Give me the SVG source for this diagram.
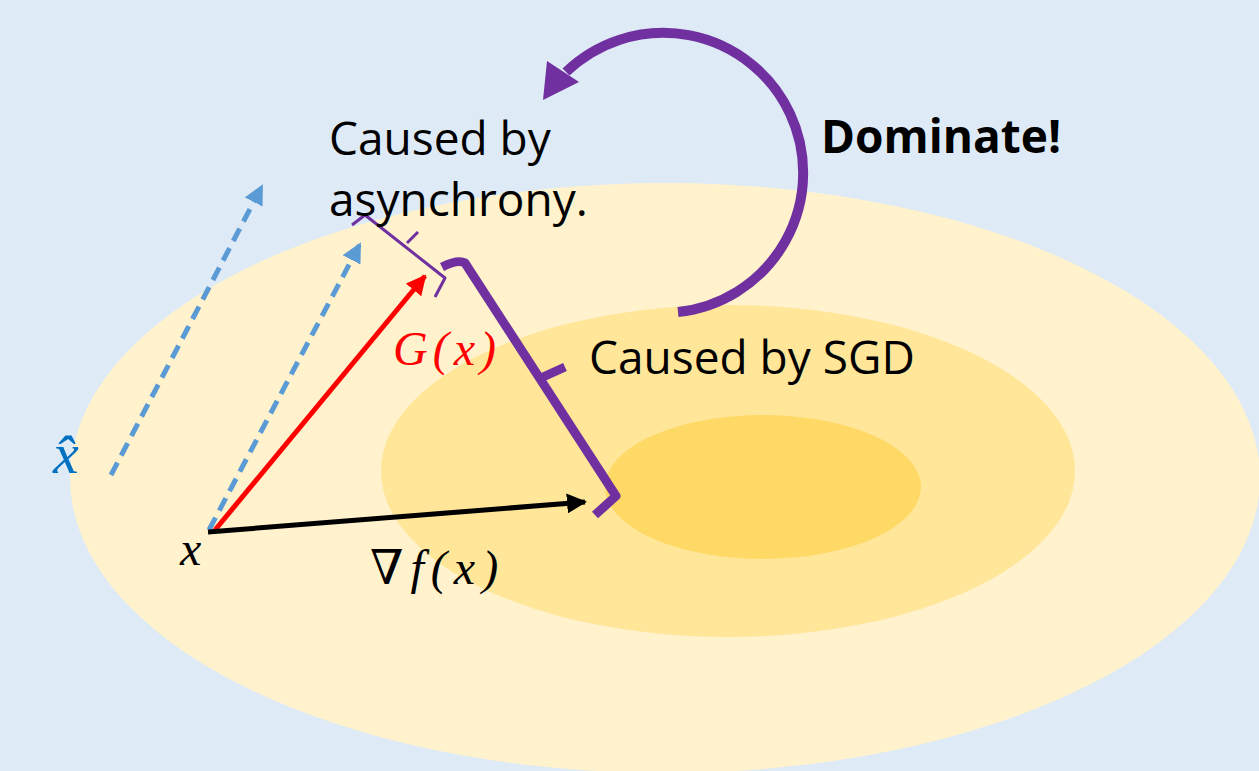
<svg xmlns="http://www.w3.org/2000/svg" width="1259" height="771" viewBox="0 0 1259 771">
<style>
.lbl{font-family:"Open Sans","Liberation Sans",sans-serif;font-size:46px;fill:#000}
.math{font-family:"Liberation Serif","DejaVu Serif",serif;font-style:italic;font-size:48px;letter-spacing:5px}
.dash{stroke:#5B9BD5;stroke-width:5;stroke-dasharray:14 8;fill:none}
.pur{stroke:#7030A0;fill:none;stroke-linejoin:round}
</style>
<defs>
<marker id="ab" viewBox="0 0 10 10" refX="9" refY="5" markerWidth="4" markerHeight="4" orient="auto" markerUnits="strokeWidth"><path d="M0,0 L10,5 L0,10 z" fill="#000"/></marker>
<marker id="ar" viewBox="0 0 10 10" refX="9" refY="5" markerWidth="4" markerHeight="4" orient="auto" markerUnits="strokeWidth"><path d="M0,0 L10,5 L0,10 z" fill="#FF0000"/></marker>
<marker id="abl" viewBox="0 0 10 10" refX="9" refY="5" markerWidth="4" markerHeight="4" orient="auto" markerUnits="strokeWidth"><path d="M0,0 L10,5 L0,10 z" fill="#5B9BD5"/></marker>
</defs>
<rect width="1259" height="771" fill="#DEEAF6"/>
<g id="contours">
<ellipse cx="665" cy="478" rx="595" ry="295" fill="#FFF2CC"/>
<ellipse cx="728" cy="471" rx="347" ry="166" fill="#FFE699"/>
<ellipse cx="763" cy="487" rx="158" ry="72" fill="#FFD966"/>
</g>
<g id="connectors">
<line class="dash" x1="111" y1="475" x2="262" y2="186" marker-end="url(#abl)"/>
<line class="dash" x1="209" y1="530" x2="360" y2="244" marker-end="url(#abl)"/>
<line x1="215" y1="530" x2="425" y2="276" stroke="#FF0000" stroke-width="5" marker-end="url(#ar)"/>
<line x1="208" y1="532" x2="585" y2="502" stroke="#000" stroke-width="5" marker-end="url(#ab)"/>
<path class="pur" stroke-width="3" d="M352,225 L365,215 L445,278 L435,297"/>
<path class="pur" stroke-width="3" d="M407,243 L418,232"/>
<path class="pur" stroke-width="9" d="M442,267 Q458,259 465,263 L616,496 L595,515"/>
<path class="pur" stroke-width="9" d="M543,377 L565,367"/>
<path class="pur" stroke-width="10" d="M678,312 A140,140 0 1 0 566,72"/>
<polygon points="543,100 547,61 579,82" fill="#7030A0"/>
</g>
<g id="labels">
<text class="lbl" x="329" y="155">Caused by</text>
<text class="lbl" x="329" y="216">asynchrony.</text>
<text class="lbl" x="821" y="153" font-weight="bold">Dominate!</text>
<text class="lbl" x="589" y="374">Caused by SGD</text>
<text class="math" x="393" y="365" fill="#FF0000">G(x)</text>
<text class="math" x="180" y="565" fill="#000">x</text>
<text class="math" x="370" y="584" fill="#000" style="letter-spacing:7px"><tspan font-style="normal">∇</tspan>f(x)</text>
<text class="math" x="53" y="473" fill="#0070C0" style="font-size:58px">x̂</text>
</g>
</svg>
